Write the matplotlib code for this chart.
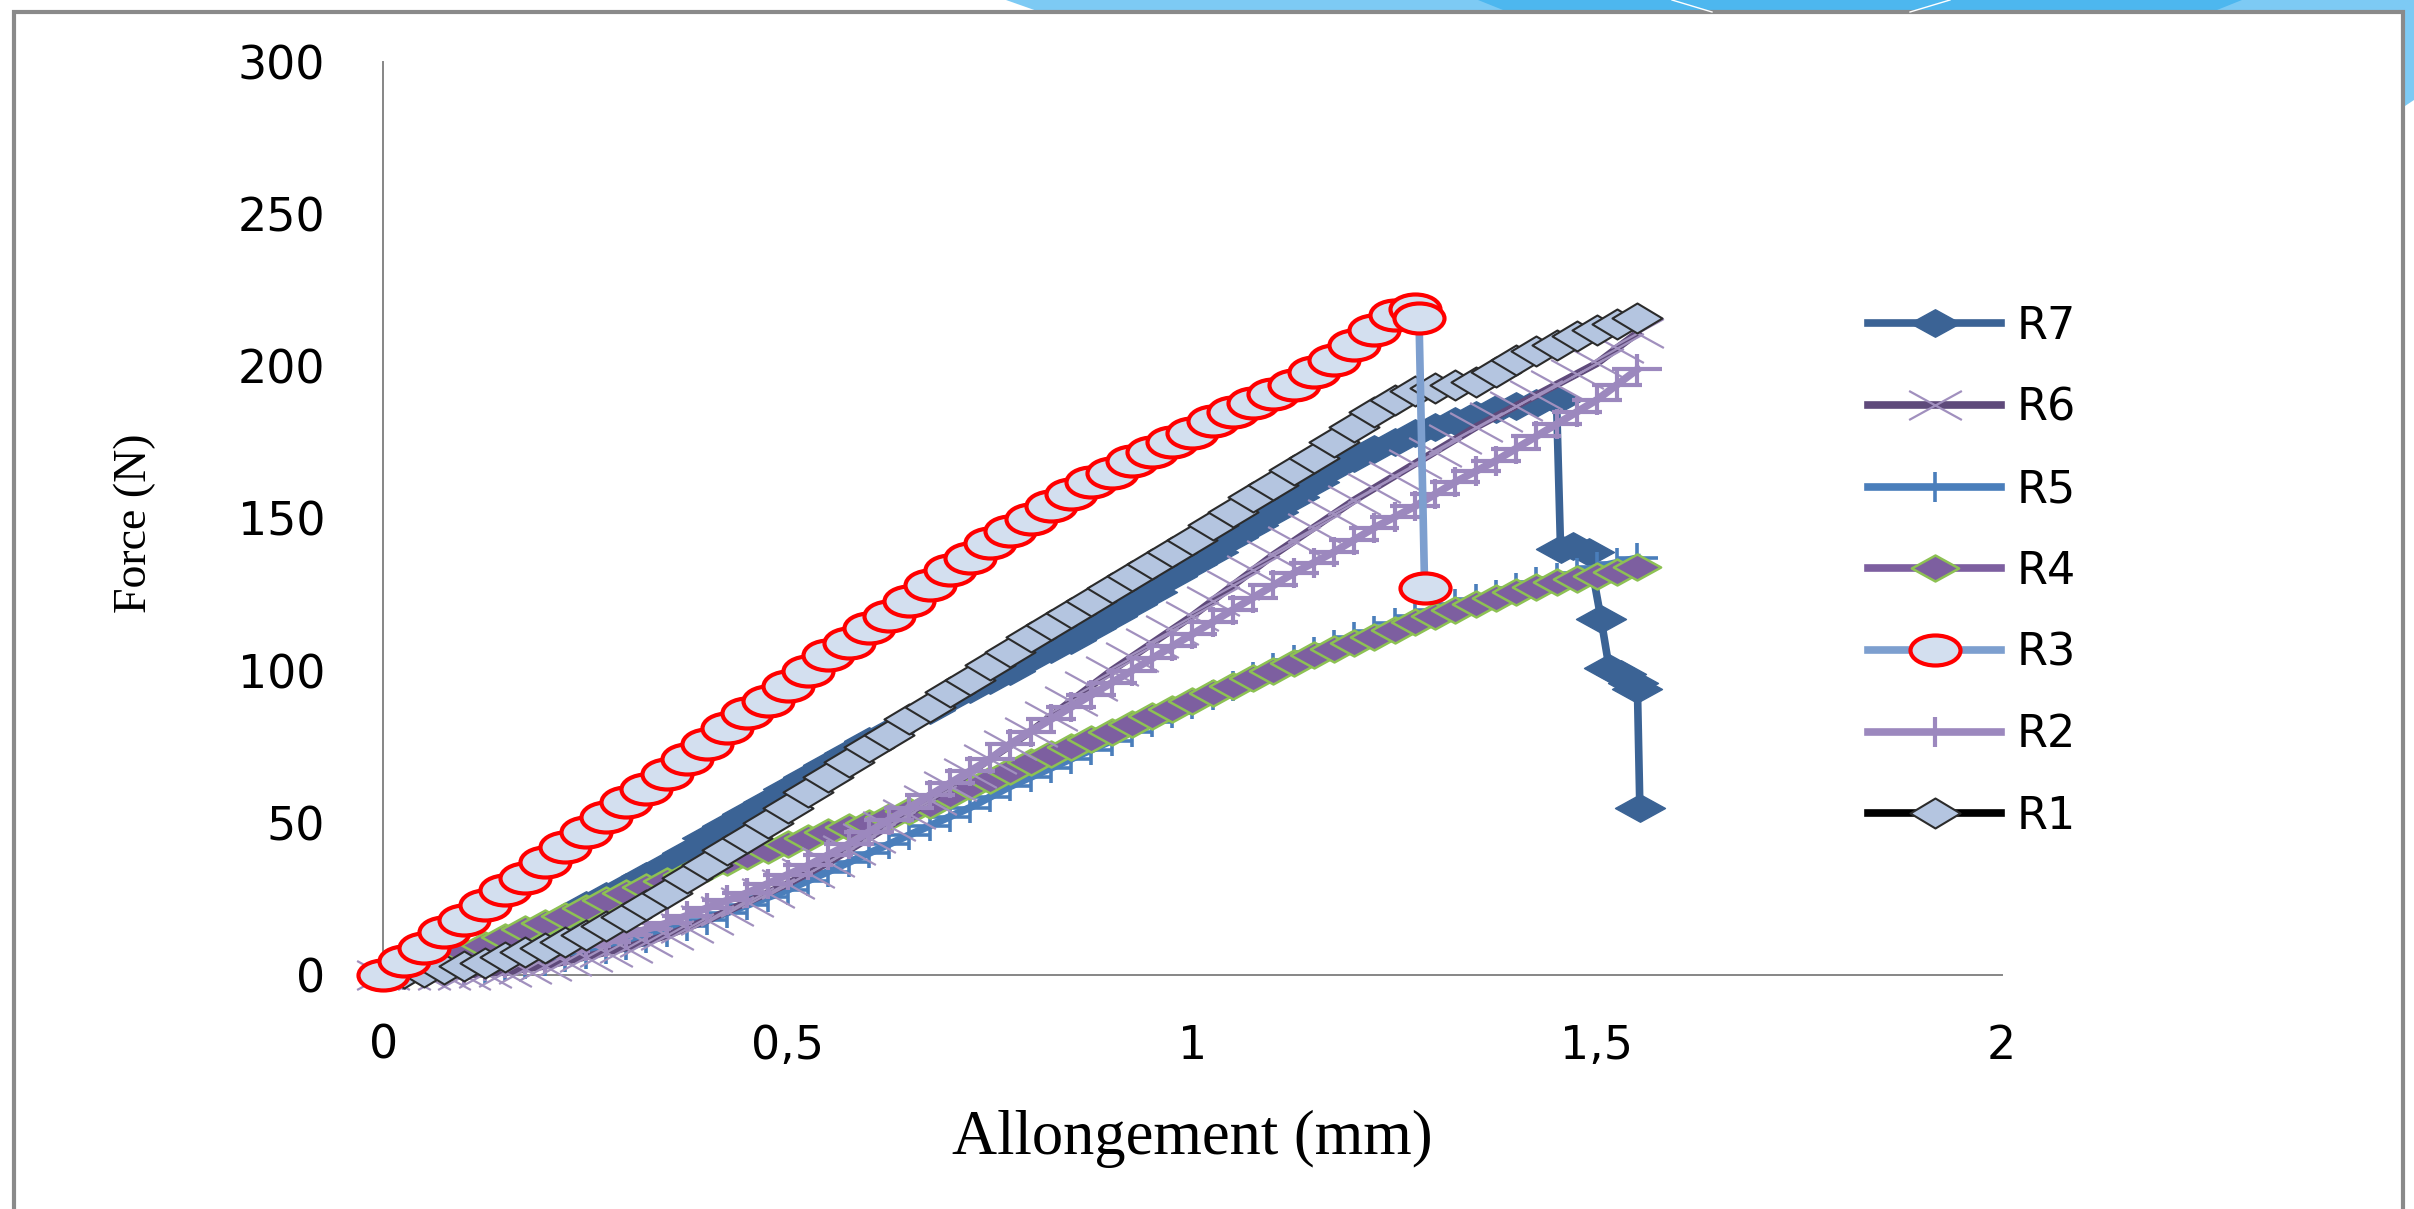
import matplotlib
matplotlib.use("Agg")
import matplotlib.pyplot as plt
from matplotlib.path import Path
from matplotlib.patches import Polygon, Rectangle

# --- data (Allongement in mm, Force in N) ---
allongement = [0.0, 0.025, 0.05, 0.075, 0.1, 0.125, 0.15, 0.175, 0.2, 0.225,
               0.25, 0.275, 0.3, 0.325, 0.35, 0.375, 0.4, 0.425, 0.45, 0.475,
               0.5, 0.525, 0.55, 0.575, 0.6, 0.625, 0.65, 0.675, 0.7, 0.725,
               0.75, 0.775, 0.8, 0.825, 0.85, 0.875, 0.9, 0.925, 0.95, 0.975,
               1.0, 1.025, 1.05, 1.075, 1.1, 1.125, 1.15, 1.175, 1.2, 1.225,
               1.25, 1.275, 1.3, 1.325, 1.35, 1.375, 1.4, 1.425, 1.45, 1.475,
               1.5, 1.525, 1.55]

r1 = [0, 0.5, 1, 2, 3, 4, 6, 7.5, 9, 11, 13, 16, 19, 23, 27, 32, 36, 41, 45, 50,
      55, 60, 65, 70, 75, 79, 84, 88, 93, 97, 102, 106, 111, 115, 119, 123, 127,
      131, 135, 139, 143, 148, 152, 157, 161, 166, 170, 175, 180, 185, 189, 192,
      193, 194, 195, 198, 202, 205, 207, 210, 212, 214, 216]

r2 = [0, 0, 0.5, 1, 2, 3, 4, 5, 6, 8, 9.5, 11, 13, 15, 17, 19.5, 22, 24.5, 27,
      30, 33, 36, 39.5, 43, 47, 51, 55, 59, 63, 67, 71, 76, 80, 84, 88, 92, 96,
      100, 104, 108, 112, 116, 120, 124, 128, 132, 135.5, 139, 143, 147, 150.5,
      154, 158, 162, 165.5, 169, 173, 177, 181, 185, 189, 194, 199]

r3 = [0, 4.5, 9, 14, 18, 23, 28, 32, 37, 42, 47, 52, 57, 61, 66, 71, 76, 81, 86,
      90, 95, 100, 105, 109, 114, 118, 123, 128, 133, 137, 142, 146, 150, 154,
      158, 162, 165, 169, 172, 175, 178, 182, 185, 188, 191, 194, 198, 202, 207,
      212, 217, 219]
r3_end_x = [1.28, 1.287]
r3_end_y = [216, 127]

r4 = [0, 2, 4, 6, 8, 10, 12.5, 15, 17, 19.5, 22, 24.5, 27, 29, 31, 33, 35, 37,
      39, 41, 43, 45, 47, 48.5, 50, 52, 54, 56, 59, 62, 64, 67, 70, 72.5, 75,
      77.5, 80, 82.5, 85, 87.5, 90, 92.5, 95, 97.5, 100, 102.5, 105, 107, 109,
      111, 113.5, 116, 118, 120, 122, 124, 126, 127.5, 129, 130, 131, 132.5, 134]

r5 = [0, 0, 0.5, 1, 1.5, 2, 3, 3.5, 4.5, 6, 7, 8.5, 10, 12, 14, 16, 18, 20.5,
      23, 25.5, 28, 31, 34, 37, 40, 43, 46, 49, 52, 55, 58.5, 62, 65, 68, 71,
      74, 77, 80, 83, 86, 89, 92, 95, 98, 101, 103.5, 106, 108.5, 111, 113,
      115.5, 118, 120, 122, 123.5, 125, 127, 129, 130.5, 132, 134, 135.5, 137]

r6 = [0, 0, 0, 0, 0, 0.5, 1, 2, 3, 4.5, 6, 7.5, 9, 11, 13, 15.5, 18, 21, 24, 27,
      30, 33.5, 37, 41, 45, 49, 53, 57.5, 62, 66.5, 71, 75.5, 80, 85, 90, 95,
      100, 104.5, 109, 113.5, 118, 123, 128, 133, 138, 142.5, 147, 151.5, 156,
      160, 164, 168, 172, 176, 180, 183.5, 187, 190.5, 194, 197.5, 201, 206, 211]

r7 = [0, 1, 3, 5, 7, 9, 11, 13.5, 16, 19, 23, 26, 29, 32.5, 36, 40, 45, 49, 53,
      57, 61, 65, 69, 73, 77, 80, 84, 87, 91, 94, 97, 100, 104, 107, 110, 114,
      118, 122, 126, 131, 135, 139, 144, 148, 152, 157, 162, 167, 170, 173, 175,
      178, 180, 182, 184, 186, 187, 188, 189]
r7_end_x = [1.455, 1.47, 1.49, 1.505, 1.515, 1.53, 1.545, 1.55, 1.553]
r7_end_y = [140, 141, 139, 117, 101, 99, 96, 94, 55]

x_ticks = [0, 0.5, 1, 1.5, 2]
x_tick_labels = ["0", "0,5", "1", "1,5", "2"]
y_ticks = [0, 50, 100, 150, 200, 250, 300]


# --- wide marker shapes (the source image is stretched sideways) ---
def ellipse(aspect):
    c = Path.unit_circle()
    return Path(c.vertices * [1, aspect], c.codes)


def diamond(aspect):
    return Path([(-1, 0), (0, aspect), (1, 0), (0, -aspect), (-1, 0)],
                [Path.MOVETO, Path.LINETO, Path.LINETO, Path.LINETO, Path.CLOSEPOLY])


def plus(aspect):
    return Path([(-1, 0), (1, 0), (0, -aspect), (0, aspect)],
                [Path.MOVETO, Path.LINETO, Path.MOVETO, Path.LINETO])


def cross(aspect):
    return Path([(-1, -aspect), (1, aspect), (-1, aspect), (1, -aspect)],
                [Path.MOVETO, Path.LINETO, Path.MOVETO, Path.LINETO])


W, H = 2414, 1209
plt.rcParams["font.family"] = ["DejaVu Sans"]
fig = plt.figure(figsize=(W / 100, H / 100), dpi=100)


def fx(px):
    return px / W


def fy(py):
    return 1 - py / H


# slide decoration on top and the gray frame
light_blue, mid_blue = "#7DCAF4", "#4DB7EF"
fig.add_artist(Polygon([(fx(1006), fy(0)), (fx(2414), fy(0)), (fx(2414), fy(12)), (fx(1040), fy(12))],
                       closed=True, transform=fig.transFigure, color=light_blue, lw=0))
fig.add_artist(Polygon([(fx(1478), fy(0)), (fx(2242), fy(0)), (fx(2212), fy(12)), (fx(1508), fy(12))],
                       closed=True, transform=fig.transFigure, color=mid_blue, lw=0))
for a, b in [((1672, 0), (1712, 12)), ((1950, 0), (1910, 12))]:
    fig.add_artist(plt.Line2D([fx(a[0]), fx(b[0])], [fy(a[1]), fy(b[1])],
                              transform=fig.transFigure, color="white", lw=1))
fig.add_artist(Polygon([(fx(2405), fy(0)), (fx(2414), fy(0)), (fx(2414), fy(100)), (fx(2405), fy(106))],
                       closed=True, transform=fig.transFigure, color=light_blue, lw=0))
fig.add_artist(Rectangle((fx(14), fy(1230)), fx(2403 - 14), (1230 - 12) / H,
                         transform=fig.transFigure, fill=False, ec="#8A8A8A", lw=3))

ax = fig.add_axes([fx(383.4), fy(975), fx(2001.5 - 383.4), (975 - 62) / H])
ax.set_xlim(0, 2)
ax.set_ylim(0, 300)

lw = 5.5
series = {}
series["R7"] = ax.plot(allongement[:len(r7)] + r7_end_x, r7 + r7_end_y, color="#3B6395", lw=lw,
                       marker=diamond(0.55), ms=36, mfc="#3B6395", mec="#3B6395", mew=1,
                       clip_on=False, zorder=2)[0]
series["R5"] = ax.plot(allongement, r5, color="#4A7EBB", lw=lw,
                       marker=plus(0.7), ms=30, mfc="none", mec="#4A7EBB", mew=2.6,
                       clip_on=False, zorder=3)[0]
series["R4"] = ax.plot(allongement, r4, color="#7D5FA0", lw=lw,
                       marker=diamond(0.55), ms=34, mfc="#7D5FA0", mec="#8DC153", mew=1.8,
                       clip_on=False, zorder=4)[0]
series["R6"] = ax.plot(allongement, r6, color="#5F4A7B", lw=lw,
                       marker=cross(0.55), ms=38, mfc="none", mec="#A190BE", mew=1.6,
                       clip_on=False, zorder=5)[0]
series["R2"] = ax.plot(allongement, r2, color="#9C88BE", lw=lw,
                       marker=plus(0.6), ms=36, mfc="none", mec="#9C88BE", mew=3,
                       clip_on=False, zorder=6)[0]
series["R1"] = ax.plot(allongement, r1, color="black", lw=lw,
                       marker=diamond(0.6), ms=36, mfc="#B4C5E0", mec="#2B2B2B", mew=1.5,
                       clip_on=False, zorder=7)[0]
series["R3"] = ax.plot(allongement[:len(r3)] + r3_end_x, r3 + r3_end_y, color="#7D9FCF", lw=lw,
                       marker=ellipse(0.6), ms=36, mfc="#D3DFEF", mec="#FF0000", mew=3,
                       clip_on=False, zorder=8)[0]

for side in ["top", "right"]:
    ax.spines[side].set_visible(False)
for side in ["left", "bottom"]:
    ax.spines[side].set_color("#868686")
    ax.spines[side].set_linewidth(1.4)
ax.set_xticks(x_ticks)
ax.set_xticklabels(x_tick_labels)
ax.set_yticks(y_ticks)
ax.tick_params(axis="both", length=0, labelsize=33)
ax.tick_params(axis="x", pad=35)
ax.tick_params(axis="y", pad=42)

ax.set_xlabel("Allongement (mm)", family="Liberation Serif", fontsize=45)
ax.xaxis.set_label_coords(0.5, -(1139 - 975) / (975 - 62), transform=ax.transAxes)
ax.set_ylabel("Force (N)", family="Liberation Serif", fontsize=33)
ax.yaxis.set_label_coords((135 - 383.4) / (2001.5 - 383.4), (975 - 523) / (975 - 62),
                          transform=ax.transAxes)
ax.xaxis.label.set_va("center")
ax.yaxis.label.set_va("center")

order = ["R7", "R6", "R5", "R4", "R3", "R2", "R1"]
fig.legend([series[k] for k in order], order, loc="upper left",
           bbox_to_anchor=(fx(1868), fy(305)), frameon=False, fontsize=32,
           handlelength=3.0, handletextpad=0.34, labelspacing=0.87,
           borderpad=0, borderaxespad=0)

fig.savefig("out.png", dpi=100)
